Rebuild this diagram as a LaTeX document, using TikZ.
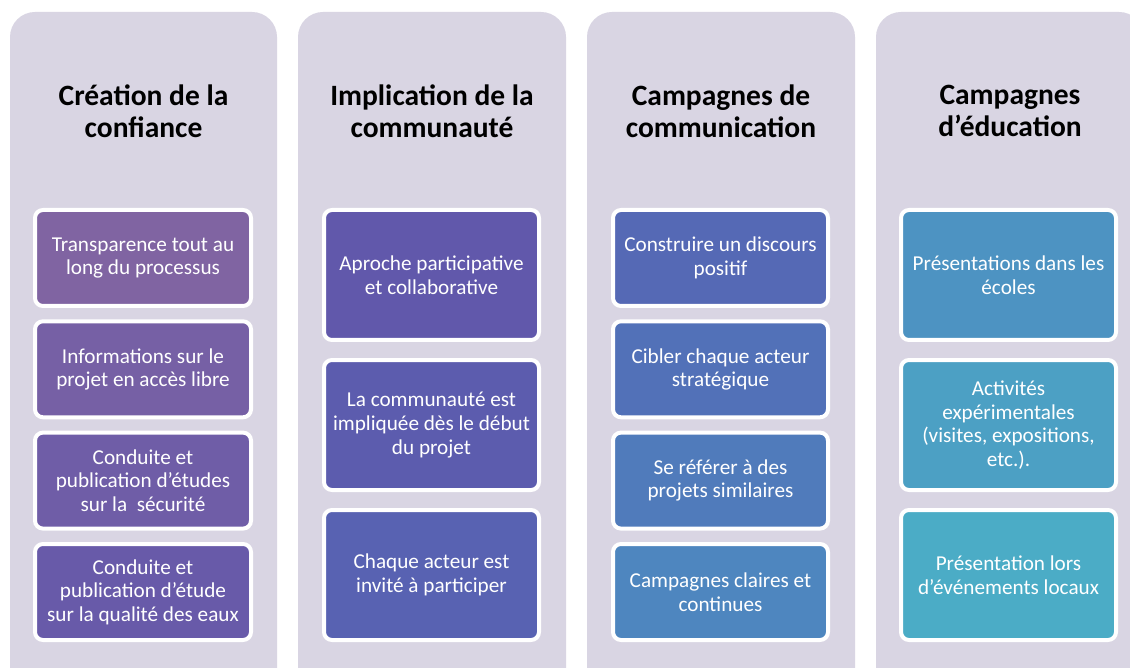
\documentclass[tikz,border=0pt]{standalone}
\usepackage{fontspec}
\setmainfont{Carlito}
\definecolor{panel}{HTML}{D9D5E3}
\definecolor{bA}{HTML}{8064A2}
\definecolor{bB}{HTML}{7660A5}
\definecolor{bC}{HTML}{6F5DA7}
\definecolor{bD}{HTML}{685AA9}
\definecolor{bE}{HTML}{6158AB}
\definecolor{bF}{HTML}{5C5CAE}
\definecolor{bG}{HTML}{5862B2}
\definecolor{bH}{HTML}{5569B5}
\definecolor{bI}{HTML}{5271B8}
\definecolor{bJ}{HTML}{507BBB}
\definecolor{bK}{HTML}{4E86BF}
\definecolor{bL}{HTML}{4D93C2}
\definecolor{bM}{HTML}{4CA0C4}
\definecolor{bN}{HTML}{4BACC6}
\newcommand{\boxfont}{\fontsize{21.2}{23.6}\selectfont}
\newcommand{\headfont}{\fontsize{29.5}{32}\selectfont\bfseries}

\begin{document}
\begin{tikzpicture}[x=1pt,y=-1pt,
    col/.style={fill=panel,rounded corners=25pt},
    head/.style={align=center,font=\headfont,text=black},
    item/.style={draw=white,line width=4pt,rounded corners=8pt,align=center,
      font=\boxfont,text=white,minimum width=216pt,inner sep=2pt},
    short/.style={item,minimum height=96pt},
    tall/.style={item,minimum height=130pt}]
      \useasboundingbox (0,0) rectangle (1130,668);
      \clip (0,0) rectangle (1130,668);
      \fill[white] (0,0) rectangle (1130,668);
      \fill[col] (10,12) rectangle (277,700);
      \fill[col] (298,12) rectangle (566,700);
      \fill[col] (587,12) rectangle (855,700);
      \fill[col] (876,12) rectangle (1144,700);
      \node[head] (hconf) at (143.5,111) {Création de la\\confiance};
      \node[head] (hcomm) at (432,111) {Implication de la\\communauté};
      \node[head] (hcamp) at (721,111) {Campagnes de\\communication};
      \node[head] (hedu) at (1010,111) {Campagnes\\d’éducation};
      \node[short,fill=bA] (conf1) at (143,258) {Transparence tout au\\long du processus};
      \node[short,fill=bB] (conf2) at (143,369.3) {Informations sur le\\projet en accès libre};
      \node[short,fill=bC] (conf3) at (143,480.6) {Conduite et\\publication d’études\\sur la~ sécurité};
      \node[short,fill=bD] (conf4) at (143,592) {Conduite et\\publication d’étude\\sur la qualité des eaux};
      \node[tall,fill=bE,minimum width=215pt] (comm1) at (431.5,275) {Aproche participative\\et collaborative};
      \node[tall,fill=bF,minimum width=215pt] (comm2) at (431.5,425) {La communauté est\\impliquée dès le début\\du projet};
      \node[tall,fill=bG,minimum width=215pt] (comm3) at (431.5,575) {Chaque acteur est\\invité à participer};
      \node[short,fill=bH,minimum width=215pt] (camp1) at (720.5,258) {Construire un discours\\positif};
      \node[short,fill=bI,minimum width=215pt] (camp2) at (720.5,369.3) {Cibler chaque acteur\\stratégique};
      \node[short,fill=bJ,minimum width=215pt] (camp3) at (720.5,480.6) {Se référer à des\\projets similaires};
      \node[short,fill=bK,minimum width=215pt] (camp4) at (720.5,592) {Campagnes claires et\\continues};
      \node[tall,fill=bL,minimum width=215pt] (edu1) at (1008.5,275) {Présentations dans les\\écoles};
      \node[tall,fill=bM,minimum width=215pt] (edu2) at (1008.5,425) {Activités\\expérimentales\\(visites, expositions,\\etc.).};
      \node[tall,fill=bN,minimum width=215pt] (edu3) at (1008.5,575) {Présentation lors\\d’événements locaux};
     \end{tikzpicture}
\end{document}
